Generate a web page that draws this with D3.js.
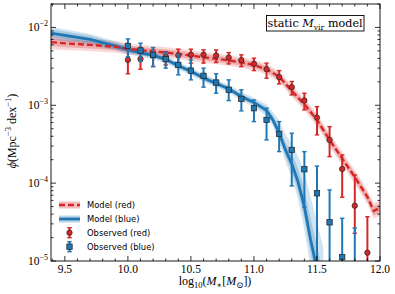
<!DOCTYPE html>
<html>
<head>
<meta charset="utf-8">
<script src="https://cdn.jsdelivr.net/npm/d3@7"></script>
<style>
  body { margin: 0; background: #fff; }
  svg { display: block; }
</style>
</head>
<body>
<svg id="chart" width="395" height="294"></svg>
<script>
// ---- data ----
const obsMass = [10.0, 10.1, 10.2, 10.3, 10.4, 10.5, 10.6, 10.7, 10.8, 10.9,
                 11.0, 11.1, 11.2, 11.3, 11.4, 11.5, 11.6, 11.7, 11.8, 11.9];

const redObs   = [3.83e-3, 3.94e-3, 4.32e-3, 4.23e-3, 4.38e-3, 4.45e-3, 4.45e-3, 4.36e-3, 4.10e-3, 3.80e-3,
                  3.40e-3, 2.91e-3, 2.30e-3, 1.71e-3, 1.15e-3, 6.95e-4, 3.59e-4, 1.52e-4, 5.14e-5, 1.28e-5];
const redObsHi = [5.64e-3, 5.52e-3, 5.15e-3, 4.90e-3, 5.26e-3, 5.26e-3, 5.15e-3, 5.15e-3, 4.75e-3, 4.45e-3,
                  4.03e-3, 3.48e-3, 2.79e-3, 2.02e-3, 1.43e-3, 9.62e-4, 5.32e-4, 2.30e-4, 1.27e-4, 3.71e-5];
const redObsLo = [2.54e-3, 2.91e-3, 3.15e-3, 3.30e-3, 3.40e-3, 3.48e-3, 3.48e-3, 3.54e-3, 3.40e-3, 3.14e-3,
                  2.79e-3, 2.23e-3, 1.88e-3, 1.36e-3, 8.73e-4, 4.17e-4, 2.19e-4, 6.59e-5, 2.27e-5, 3e-6];

const blueObs   = [5.79e-3, 5.05e-3, 4.45e-3, 3.92e-3, 3.30e-3, 2.79e-3, 2.39e-3, 1.96e-3, 1.58e-3, 1.21e-3,
                   9.18e-4, 6.49e-4, 4.29e-4, 2.67e-4, 1.51e-4, 7.41e-5, 3.14e-5, 1.12e-5, 5e-6];
const blueObsHi = [7.13e-3, 6.28e-3, 5.52e-3, 4.82e-3, 4.45e-3, 3.83e-3, 3.00e-3, 2.54e-3, 2.12e-3, 1.58e-3,
                   1.17e-3, 9.18e-4, 6.17e-4, 4.38e-4, 2.54e-4, 1.66e-4, 8.18e-5, 3.54e-5, 2.65e-5];
const blueObsLo = [4.19e-3, 3.65e-3, 3.14e-3, 3.00e-3, 2.46e-3, 2.12e-3, 1.71e-3, 1.43e-3, 1.15e-3, 8.47e-4,
                   6.17e-4, 3.59e-4, 2.54e-4, 9.20e-5, 4.90e-5, 3e-6, 3e-6, 3e-6, 3e-6];

const redMass  = [9.39, 9.5, 9.7, 9.9, 10.0, 10.2, 10.4, 10.6, 10.8, 11.0, 11.1,
                  11.2, 11.3, 11.4, 11.5, 11.6, 11.7, 11.8, 11.9, 11.95, 12.0];
const redModel = [6.47e-3, 6.25e-3, 5.97e-3, 5.64e-3, 5.31e-3, 4.93e-3, 4.58e-3, 4.13e-3, 3.78e-3, 3.30e-3, 2.89e-3,
                  2.34e-3, 1.53e-3, 1.03e-3, 6.49e-4, 3.59e-4, 2.07e-4, 1.20e-4, 6.65e-5, 4.40e-5, 4.80e-5];
// band half widths in dex
const redBand68 = [0.05, 0.05, 0.045, 0.04, 0.04, 0.04, 0.04, 0.04, 0.04, 0.04, 0.04,
                   0.04, 0.045, 0.045, 0.05, 0.05, 0.05, 0.05, 0.055, 0.06, 0.06];
const redBand95 = [0.09, 0.085, 0.08, 0.075, 0.07, 0.07, 0.07, 0.07, 0.07, 0.07, 0.07,
                   0.07, 0.075, 0.08, 0.08, 0.085, 0.085, 0.09, 0.09, 0.1, 0.1];

const blueMass  = [9.39, 9.5, 9.7, 9.9, 10.0, 10.1, 10.2, 10.3, 10.4, 10.5, 10.6, 10.7, 10.8, 10.9, 11.0,
                   11.1, 11.15, 11.2, 11.25, 11.3, 11.35, 11.4, 11.45, 11.5, 11.55];
const blueModel = [8.45e-3, 7.91e-3, 7.03e-3, 5.79e-3, 5.15e-3, 4.72e-3, 4.38e-3, 3.89e-3, 3.21e-3, 2.73e-3,
                   2.25e-3, 1.91e-3, 1.63e-3, 1.30e-3, 1.09e-3, 8.59e-4, 6.49e-4, 4.42e-4, 2.67e-4, 1.77e-4,
                   1.04e-4, 4.99e-5, 1.86e-5, 7.9e-6, 3e-6];
const blueHi95 = [0.08, 0.08, 0.07, 0.06, 0.06, 0.05, 0.05, 0.05, 0.05, 0.05, 0.05, 0.05, 0.05, 0.06, 0.06,
                  0.08, 0.1, 0.16, 0.2, 0.26, 0.33, 0.45, 0.55, 0.6, 0.7];
const blueLo95 = [0.08, 0.08, 0.07, 0.06, 0.06, 0.05, 0.05, 0.05, 0.05, 0.05, 0.05, 0.05, 0.05, 0.06, 0.06,
                  0.07, 0.08, 0.12, 0.15, 0.18, 0.22, 0.3, 0.35, 0.4, 0.45];
const blueHi68 = [0.05, 0.05, 0.045, 0.04, 0.035, 0.03, 0.03, 0.03, 0.03, 0.03, 0.03, 0.03, 0.03, 0.035, 0.035,
                  0.045, 0.06, 0.08, 0.1, 0.13, 0.17, 0.22, 0.27, 0.3, 0.35];
const blueLo68 = [0.05, 0.05, 0.045, 0.04, 0.035, 0.03, 0.03, 0.03, 0.03, 0.03, 0.03, 0.03, 0.03, 0.035, 0.035,
                  0.04, 0.05, 0.06, 0.08, 0.1, 0.12, 0.15, 0.18, 0.2, 0.22];

const xTickLabels = [9.5, 10.0, 10.5, 11.0, 11.5, 12.0];
const yTickExps = [-5, -4, -3, -2];

const legendItems = ["Model (red)", "Model (blue)", "Observed (red)", "Observed (blue)"];

// ---- setup ----
const RED = "#d62728", BLUE = "#1f77b4";
const svg = d3.select("#chart");
const box = {left: 51, right: 380, top: 4, bottom: 261};

const x = d3.scaleLinear().domain([9.39, 12.0]).range([box.left, box.right]);
const y = d3.scaleLog().domain([1e-5, 0.02]).range([box.bottom, box.top]);

svg.append("rect").attr("width", 395).attr("height", 294).attr("fill", "#fff");

svg.append("clipPath").attr("id", "clip").append("rect")
  .attr("x", box.left).attr("y", box.top)
  .attr("width", box.right - box.left).attr("height", box.bottom - box.top);

const plot = svg.append("g").attr("clip-path", "url(#clip)");

// bands
function drawBand(mass, phi, lo, hi, color, opacity) {
  const rows = mass.map((m, i) => ({m: m, lo: phi[i] * Math.pow(10, -lo[i]), hi: phi[i] * Math.pow(10, hi[i])}));
  plot.append("path").datum(rows)
    .attr("d", d3.area().x(d => x(d.m)).y0(d => y(d.lo)).y1(d => y(d.hi)))
    .attr("fill", color).attr("fill-opacity", opacity);
}
drawBand(redMass, redModel, redBand95, redBand95, RED, 0.18);
drawBand(redMass, redModel, redBand68, redBand68, RED, 0.25);
drawBand(blueMass, blueModel, blueLo95, blueHi95, BLUE, 0.2);
drawBand(blueMass, blueModel, blueLo68, blueHi68, BLUE, 0.25);

// model lines
const line = d3.line().x(d => x(d[0])).y(d => y(d[1]));
plot.append("path").datum(blueMass.map((m, i) => [m, blueModel[i]]))
  .attr("d", line).attr("fill", "none").attr("stroke", BLUE).attr("stroke-width", 2.8);
plot.append("path").datum(redMass.map((m, i) => [m, redModel[i]]))
  .attr("d", line).attr("fill", "none").attr("stroke", RED).attr("stroke-width", 2.4)
  .attr("stroke-dasharray", "6,3");

// observed points with error bars
function drawObs(vals, hi, lo, color, shape) {
  const rows = vals.map((v, i) => ({m: obsMass[i], v: v, hi: hi[i], lo: lo[i]}));
  const g = plot.append("g").selectAll("g").data(rows).enter().append("g");
  g.append("line")
    .attr("x1", d => x(d.m)).attr("x2", d => x(d.m))
    .attr("y1", d => y(d.lo)).attr("y2", d => y(d.hi))
    .attr("stroke", color).attr("stroke-width", 2);
  [d => y(d.lo), d => y(d.hi)].forEach(fy => {
    g.append("line")
      .attr("x1", d => x(d.m) - 2.2).attr("x2", d => x(d.m) + 2.2)
      .attr("y1", fy).attr("y2", fy)
      .attr("stroke", color).attr("stroke-width", 1.4);
  });
  if (shape === "circle") {
    g.append("circle").attr("cx", d => x(d.m)).attr("cy", d => y(d.v)).attr("r", 2.7)
      .attr("fill", color).attr("stroke", "#222").attr("stroke-width", 0.7);
  } else {
    g.append("rect").attr("x", d => x(d.m) - 2.7).attr("y", d => y(d.v) - 2.7)
      .attr("width", 5.4).attr("height", 5.4)
      .attr("fill", color).attr("stroke", "#222").attr("stroke-width", 0.7);
  }
}
drawObs(redObs, redObsHi, redObsLo, RED, "circle");
drawObs(blueObs, blueObsHi, blueObsLo, BLUE, "square");

// ---- ticks (inward, all four sides) ----
const ticks = svg.append("g").attr("stroke", "#000").attr("stroke-width", 0.8);
const xMinor = d3.range(94, 121).map(k => k / 10);
xMinor.forEach(v => {
  const major = xTickLabels.some(t => Math.abs(t - v) < 1e-6);
  const len = major ? 5 : 2.5;
  ticks.append("line").attr("x1", x(v)).attr("x2", x(v)).attr("y1", box.bottom).attr("y2", box.bottom - len);
  ticks.append("line").attr("x1", x(v)).attr("x2", x(v)).attr("y1", box.top).attr("y2", box.top + len);
});
const yMinor = [];
[-5, -4, -3, -2].forEach(e => d3.range(1, 10).forEach(k => {
  const v = k * Math.pow(10, e);
  if (v <= 0.02) yMinor.push({v: v, major: k === 1});
}));
yMinor.forEach(d => {
  const len = d.major ? 5 : 2.5;
  ticks.append("line").attr("x1", box.left).attr("x2", box.left + len).attr("y1", y(d.v)).attr("y2", y(d.v));
  ticks.append("line").attr("x1", box.right).attr("x2", box.right - len).attr("y1", y(d.v)).attr("y2", y(d.v));
});

svg.append("rect")
  .attr("x", box.left).attr("y", box.top)
  .attr("width", box.right - box.left).attr("height", box.bottom - box.top)
  .attr("fill", "none").attr("stroke", "#000").attr("stroke-width", 0.9);

// tick labels
const serif = "'Liberation Serif', 'DejaVu Serif', serif";
svg.append("g").selectAll("text").data(xTickLabels).enter().append("text")
  .attr("x", d => x(d)).attr("y", 273)
  .attr("text-anchor", "middle").attr("font-family", serif).attr("font-size", 11.5)
  .text(d => d.toFixed(1));

const yl = svg.append("g").selectAll("text").data(yTickExps).enter().append("text")
  .attr("x", 48).attr("y", d => y(Math.pow(10, d)) + 4)
  .attr("text-anchor", "end").attr("font-family", serif).attr("font-size", 11.5);
yl.append("tspan").text("10");
yl.append("tspan").attr("dy", -5).attr("font-size", 8).text(d => "\u2212" + Math.abs(d));

// axis labels
const xl = svg.append("text").attr("x", 215).attr("y", 285)
  .attr("text-anchor", "middle").attr("font-family", serif).attr("font-size", 12);
xl.append("tspan").text("log");
xl.append("tspan").attr("dy", 3).attr("font-size", 8.5).text("10");
xl.append("tspan").attr("dy", -3).text("(");
xl.append("tspan").attr("font-style", "italic").text("M");
xl.append("tspan").attr("dy", 3).attr("font-size", 8.5).text("\u2217");
xl.append("tspan").attr("dy", -3).text("[");
xl.append("tspan").attr("font-style", "italic").text("M");
xl.append("tspan").attr("dy", 3).attr("font-size", 8.5).text("\u2299");
xl.append("tspan").attr("dy", -3).text("])");

const ylab = svg.append("text")
  .attr("transform", "translate(16,131) rotate(-90)")
  .attr("text-anchor", "middle").attr("font-family", serif).attr("font-size", 12);
ylab.append("tspan").attr("font-style", "italic").text("\u03d5");
ylab.append("tspan").text("(Mpc");
ylab.append("tspan").attr("dy", -5).attr("font-size", 8.5).text("\u22123");
ylab.append("tspan").attr("dy", 5).text(" dex");
ylab.append("tspan").attr("dy", -5).attr("font-size", 8.5).text("\u22121");
ylab.append("tspan").attr("dy", 5).text(")");

// title box
svg.append("rect").attr("x", 266.5).attr("y", 15.5).attr("width", 97.5).attr("height", 15.5)
  .attr("fill", "#fff").attr("stroke", "#000").attr("stroke-width", 0.9);
const tt = svg.append("text").attr("x", 315).attr("y", 27)
  .attr("text-anchor", "middle").attr("font-family", "'DejaVu Serif', serif").attr("font-size", 11.2);
tt.append("tspan").text("static ");
tt.append("tspan").attr("font-style", "italic").text("M");
tt.append("tspan").attr("dy", 2.5).attr("font-size", 7.8).text("vir");
tt.append("tspan").attr("dy", -2.5).text(" model");

// ---- legend ----
const lg = svg.append("g").attr("font-family", "'DejaVu Sans', sans-serif").attr("font-size", 8.4);
const rowY = [205, 219, 232.7, 246.7];
lg.append("rect").attr("x", 59).attr("y", rowY[0] - 3.5).attr("width", 21).attr("height", 7)
  .attr("fill", RED).attr("fill-opacity", 0.3);
lg.append("line").attr("x1", 59).attr("x2", 80).attr("y1", rowY[0]).attr("y2", rowY[0])
  .attr("stroke", RED).attr("stroke-width", 2.4).attr("stroke-dasharray", "6,3");
lg.append("rect").attr("x", 59).attr("y", rowY[1] - 3.5).attr("width", 21).attr("height", 7)
  .attr("fill", BLUE).attr("fill-opacity", 0.3);
lg.append("line").attr("x1", 59).attr("x2", 80).attr("y1", rowY[1]).attr("y2", rowY[1])
  .attr("stroke", BLUE).attr("stroke-width", 2.8);
[[rowY[2], RED, "circle"], [rowY[3], BLUE, "square"]].forEach(([cy, c, s]) => {
  lg.append("line").attr("x1", 69.5).attr("x2", 69.5).attr("y1", cy - 5).attr("y2", cy + 5)
    .attr("stroke", c).attr("stroke-width", 2);
  [cy - 5, cy + 5].forEach(yy => lg.append("line").attr("x1", 67.3).attr("x2", 71.7)
    .attr("y1", yy).attr("y2", yy).attr("stroke", c).attr("stroke-width", 1.4));
  if (s === "circle") {
    lg.append("circle").attr("cx", 69.5).attr("cy", cy).attr("r", 2.7)
      .attr("fill", c).attr("stroke", "#222").attr("stroke-width", 0.7);
  } else {
    lg.append("rect").attr("x", 66.8).attr("y", cy - 2.7).attr("width", 5.4).attr("height", 5.4)
      .attr("fill", c).attr("stroke", "#222").attr("stroke-width", 0.7);
  }
});
lg.selectAll("text.item").data(legendItems).enter().append("text")
  .attr("x", 87).attr("y", (d, i) => rowY[i] + 3).text(d => d);
</script>
</body>
</html>
